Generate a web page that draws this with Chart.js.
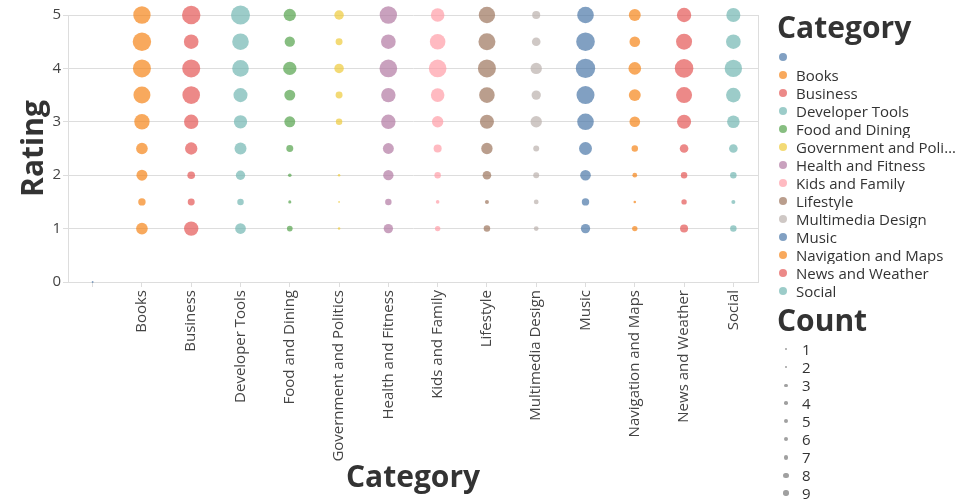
<!DOCTYPE html>
<html>
<head>
<meta charset="utf-8">
<script src="https://cdn.jsdelivr.net/npm/chart.js@4"></script>
<style>
  body { margin: 0; background: #fff; font-family: 'Open Sans', sans-serif; }
  #wrap { position: relative; width: 960px; height: 500px; overflow: hidden; }
  #legend { position: absolute; left: 777px; top: 0; width: 183px; height: 500px; color: #333; }
  .ltitle { position: absolute; left: 0; font-size: 30px; font-weight: bold; line-height: 30px; white-space: nowrap; }
  .litem { position: absolute; left: 0; width: 183px; height: 18px; font-size: 15px; line-height: 18px; white-space: nowrap; }
  .dot { position: absolute; border-radius: 50%; }
  .ltext { position: absolute; top: 0; max-width: 160px; overflow: hidden; text-overflow: ellipsis; }
</style>
</head>
<body>
<div id="wrap">
  <canvas id="chart" width="960" height="500"></canvas>
  <div id="legend"></div>
</div>
<script>
// categories on the x axis (the first one has no name)
const categories = ['', 'Books', 'Business', 'Developer Tools', 'Food and Dining',
  'Government and Politics', 'Health and Fitness', 'Kids and Family', 'Lifestyle',
  'Multimedia Design', 'Music', 'Navigation and Maps', 'News and Weather', 'Social'];

// ratings on the y axis
const ratings = [1, 1.5, 2, 2.5, 3, 3.5, 4, 4.5, 5];
const yTicks = [0, 1, 2, 3, 4, 5];

// counts per category, same order as ratings
const blankRatings = [0];
const blankCounts = [1];
const books = [42, 17, 37, 42, 73, 89, 100, 105, 93];
const business = [64, 15, 18, 47, 64, 96, 100, 66, 105];
const developerTools = [35, 13, 27, 44, 55, 61, 85, 85, 111];
const foodAndDining = [10, 3, 4, 15, 37, 37, 55, 33, 47];
const government = [2, 1, 2, null, 13, 15, 28, 15, 28];
const healthAndFitness = [27, 13, 33, 37, 64, 64, 96, 66, 93];
const kidsAndFamily = [9, 4, 13, 20, 40, 57, 96, 75, 57];
const lifestyle = [13, 5, 23, 40, 61, 75, 100, 89, 83];
const multimedia = [7, 7, 11, 11, 40, 27, 40, 23, 20];
const music = [27, 17, 35, 52, 85, 100, 116, 107, 85];
const navigation = [9, 2, 7, 13, 35, 44, 49, 35, 44];
const newsAndWeather = [20, 9, 13, 23, 61, 79, 107, 79, 64];
const social = [13, 5, 13, 23, 49, 66, 93, 66, 61];

// values shown in the size legend
const countLegend = [1, 2, 3, 4, 5, 6, 7, 8, 9];

const palette = ['#4c78a8', '#f58518', '#e45756', '#72b7b2', '#54a24b',
  '#eeca3b', '#b279a2', '#ff9da6', '#9d755d', '#bab0ac'];

const seriesCounts = [blankCounts, books, business, developerTools, foodAndDining,
  government, healthAndFitness, kidsAndFamily, lifestyle, multimedia, music,
  navigation, newsAndWeather, social];

const K = 0.9; // radius per sqrt(count)
const radiusOf = c => Math.sqrt(c) * K;

function fade(hex, a) {
  const n = parseInt(hex.slice(1), 16);
  return `rgba(${n >> 16},${(n >> 8) & 255},${n & 255},${a})`;
}

const datasets = categories.map((cat, i) => {
  const ys = i === 0 ? blankRatings : ratings;
  const cs = seriesCounts[i];
  const data = [];
  ys.forEach((r, j) => {
    if (cs[j] != null) data.push({ x: cat, y: r, c: cs[j] });
  });
  return {
    label: cat,
    data: data,
    backgroundColor: fade(palette[i % palette.length], 0.7),
    borderWidth: 0,
    pointRadius: ctx => ctx.raw ? radiusOf(ctx.raw.c) : 0,
    pointHoverRadius: ctx => ctx.raw ? radiusOf(ctx.raw.c) : 0,
    clip: false
  };
});

// thin frame line on the right of the plot
const rightFrame = {
  id: 'rightFrame',
  afterDraw(chart) {
    const a = chart.chartArea, c = chart.ctx;
    c.save();
    c.strokeStyle = '#ddd';
    c.lineWidth = 1;
    c.beginPath();
    c.moveTo(Math.round(a.right) + 0.5, a.top);
    c.lineTo(Math.round(a.right) + 0.5, a.bottom);
    c.stroke();
    c.restore();
  }
};

new Chart(document.getElementById('chart'), {
  type: 'scatter',
  data: { datasets: datasets },
  options: {
    responsive: false,
    animation: false,
    layout: { padding: { top: 15, right: 202, bottom: 0, left: 0 } },
    plugins: { legend: { display: false }, tooltip: { enabled: false } },
    scales: {
      x: {
        type: 'category',
        labels: categories,
        offset: true,
        grid: { offset: false, drawOnChartArea: false, drawTicks: true, tickLength: 5, color: '#ddd' },
        border: { color: '#ddd' },
        ticks: {
          autoSkip: false, maxRotation: 90, minRotation: 90, padding: 3,
          color: '#444', font: { family: 'Open Sans', size: 15 }
        },
        title: {
          display: true, text: 'Category', color: '#333',
          font: { family: 'Open Sans', size: 30, weight: 'bold' },
          padding: { top: 0, bottom: 3.5 }
        },
        afterFit: s => { s.height = 218; }
      },
      y: {
        min: 0, max: 5,
        afterBuildTicks: s => { s.ticks = yTicks.map(v => ({ value: v })); },
        grid: { color: '#ddd', tickLength: 5 },
        border: { color: '#ddd' },
        ticks: { padding: 2, color: '#444', font: { family: 'Open Sans', size: 15 } },
        title: {
          display: true, text: 'Rating', color: '#333',
          font: { family: 'Open Sans', size: 30, weight: 'bold' },
          padding: { top: 16.5, bottom: 0 }
        },
        afterFit: s => { s.width = 68; }
      }
    }
  },
  plugins: [rightFrame]
});

// legend on the right: colour per category, then size per count
const legend = document.getElementById('legend');
function addTitle(text, top) {
  const d = document.createElement('div');
  d.className = 'ltitle';
  d.style.top = top + 'px';
  d.textContent = text;
  legend.appendChild(d);
}
function addItem(text, top, color, r, cx, tx) {
  const row = document.createElement('div');
  row.className = 'litem';
  row.style.top = top + 'px';
  const dot = document.createElement('span');
  dot.className = 'dot';
  dot.style.width = dot.style.height = (2 * r) + 'px';
  dot.style.left = (cx - r) + 'px';
  dot.style.top = (9 - r) + 'px';
  dot.style.background = color;
  const t = document.createElement('span');
  t.className = 'ltext';
  t.style.left = tx + 'px';
  t.textContent = text;
  row.appendChild(dot);
  row.appendChild(t);
  legend.appendChild(row);
}

addTitle('Category', 12.4);
categories.forEach((cat, i) => {
  addItem(cat, 48.2 + 18 * i, fade(palette[i % palette.length], 0.7), 4, 6, 19);
});

addTitle('Count', 305.4);
countLegend.forEach((v, i) => {
  addItem(String(v), 340.2 + 18 * i, 'rgba(136,136,136,0.8)', Math.max(radiusOf(v), 1.2), 9, 25);
});
</script>
</body>
</html>
